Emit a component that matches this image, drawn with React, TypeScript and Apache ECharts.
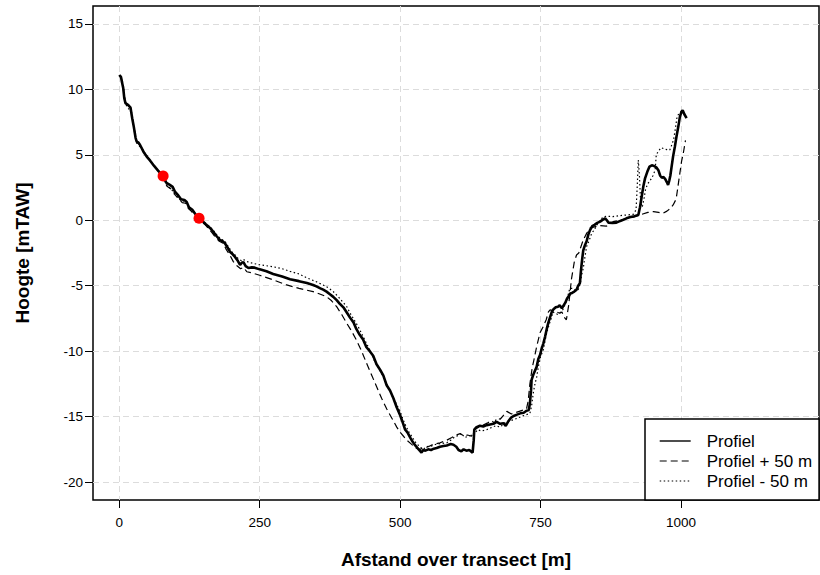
import React, { useEffect, useRef } from "react";
import * as echarts from "echarts";

const xTicks = [0, 250, 500, 750, 1000];
const yTicks = [-20, -15, -10, -5, 0, 5, 10, 15];

const seriesNames = ["Profiel", "Profiel + 50 m", "Profiel - 50 m"];

// Profiel (distance m, height mTAW)
const profiel: [number, number][] = [
  [0, 11.1], [3, 10.95], [5, 10.5], [7, 10.1], [9, 9.3], [11, 8.95], [16, 8.8], [20, 8.6], [23, 7.8], [26, 7.1],
  [29, 6.3], [31, 6.0], [34, 5.95], [37, 5.75], [43, 5.24], [50, 4.8], [55, 4.55], [62, 4.15], [69, 3.8], [78, 3.38],
  [84, 2.85], [90, 2.7], [95, 2.55], [99, 2.2], [105, 1.9], [110, 1.6], [116, 1.55], [120, 1.4], [124, 1.0], [130, 0.8],
  [135, 0.5], [142, 0.15], [148, -0.05], [155, -0.35], [162, -0.6], [167, -0.87], [173, -1.2], [179, -1.5], [184, -1.6],
  [188, -1.76], [193, -2.1], [197, -2.4], [202, -2.6], [206, -2.8], [211, -3.1], [215, -3.4], [218, -3.25], [221, -3.2],
  [225, -3.5], [230, -3.65], [236, -3.6], [241, -3.62], [250, -3.75], [262, -3.9], [274, -4.1], [290, -4.3], [304, -4.5],
  [320, -4.65], [334, -4.8], [345, -4.94], [351, -5.05], [358, -5.2], [363, -5.3], [369, -5.45], [375, -5.65], [381, -5.85],
  [387, -6.1], [393, -6.4], [399, -6.65], [405, -7.05], [411, -7.45], [417, -7.8], [422, -8.3], [428, -8.75], [434, -9.1],
  [440, -9.7], [446, -10.0], [452, -10.35], [458, -11.0], [464, -11.4], [470, -11.85], [476, -12.6], [482, -13.0],
  [488, -13.6], [494, -14.3], [500, -14.9], [505, -15.5], [509, -16.0], [513, -16.2], [518, -16.6], [522, -16.9],
  [527, -17.2], [531, -17.4], [535, -17.6], [538, -17.75], [541, -17.55], [545, -17.6], [550, -17.5], [555, -17.55],
  [560, -17.45], [565, -17.4], [571, -17.3], [577, -17.25], [583, -17.2], [590, -17.1], [595, -17.15], [600, -17.3],
  [604, -17.55], [609, -17.65], [613, -17.5], [618, -17.6], [623, -17.55], [629, -17.75], [631, -16.8], [632, -16.0],
  [636, -15.8], [642, -15.7], [648, -15.75], [654, -15.65], [660, -15.6], [666, -15.55], [672, -15.4], [678, -15.55],
  [684, -15.5], [688, -15.7], [692, -15.4], [697, -15.1], [702, -14.95], [708, -14.85], [714, -14.75], [720, -14.7],
  [725, -14.55], [729, -14.5], [731, -14.0], [733, -13.0], [734, -12.2], [737, -11.8], [740, -11.5], [743, -11.2],
  [746, -10.6], [749, -10.3], [752, -9.8], [755, -9.4], [758, -8.9], [761, -8.3], [764, -7.8], [767, -7.4], [770, -7.0],
  [773, -6.8], [777, -6.65], [781, -6.6], [784, -6.5], [788, -6.72], [791, -6.5], [794, -6.3], [797, -6.0], [800, -5.8],
  [803, -5.6], [806, -5.55], [810, -5.45], [814, -5.3], [817, -5.0], [820, -4.8], [822, -3.8], [824, -3.0], [826, -2.3],
  [829, -1.9], [832, -1.6], [835, -1.1], [838, -0.75], [842, -0.45], [846, -0.35], [851, -0.2], [856, -0.1], [861, 0.05],
  [865, 0.15], [868, 0.0], [871, -0.18], [878, -0.2], [885, -0.18], [892, -0.05], [898, 0.05], [903, 0.15], [910, 0.25],
  [917, 0.3], [924, 0.4], [927, 1.0], [930, 1.8], [933, 2.6], [936, 3.2], [940, 3.7], [944, 4.1], [948, 4.2], [952, 4.15],
  [956, 4.05], [960, 3.8], [963, 3.4], [966, 3.25], [969, 3.3], [972, 3.15], [975, 2.9], [977, 2.7], [979, 3.0],
  [981, 3.4], [983, 4.0], [986, 4.9], [989, 5.6], [992, 6.4], [995, 7.1], [998, 7.9], [1001, 8.3], [1003, 8.4],
  [1006, 8.1], [1010, 7.8],
];

// Profiel + 50 m
const profielPlus: [number, number][] = [
  [1, 11.0], [4, 10.8], [6, 10.3], [8, 9.8], [10, 9.1], [13, 8.9], [17, 8.75], [21, 8.5], [24, 7.6], [27, 6.9],
  [30, 6.2], [33, 5.9], [38, 5.7], [44, 5.2], [52, 4.7], [60, 4.25], [68, 3.85], [75, 3.45], [80, 3.0], [85, 2.6],
  [90, 2.45], [96, 2.3], [100, 1.9], [106, 1.65], [112, 1.35], [118, 1.3], [123, 0.9], [128, 0.7], [134, 0.4],
  [140, 0.05], [146, -0.1], [152, -0.3], [158, -0.6], [165, -0.95], [172, -1.35], [178, -1.6], [185, -1.75], [190, -2.2],
  [196, -2.6], [203, -3.16], [210, -3.5], [216, -3.7], [221, -3.6], [227, -3.93], [235, -4.0], [250, -4.2], [274, -4.55],
  [298, -4.94], [320, -5.2], [345, -5.45], [358, -5.65], [369, -5.84], [378, -6.15], [387, -6.6], [396, -7.2],
  [405, -7.87], [414, -8.5], [422, -9.14], [431, -9.95], [440, -10.9], [449, -11.8], [458, -12.7], [467, -13.6],
  [476, -14.4], [485, -15.1], [494, -15.8], [500, -16.2], [506, -16.5], [512, -16.8], [520, -17.1], [528, -17.4],
  [535, -17.5], [541, -17.4], [550, -17.3], [560, -17.1], [571, -17.0], [583, -16.8], [592, -16.6], [600, -16.4],
  [607, -16.3], [614, -16.5], [620, -16.4], [627, -16.5], [632, -16.0], [636, -15.9], [645, -15.7], [655, -15.5],
  [663, -15.3], [668, -15.5], [672, -15.1], [678, -15.2], [684, -14.9], [690, -14.6], [698, -14.8], [705, -14.7],
  [712, -14.6], [719, -14.5], [725, -14.4], [728, -13.8], [731, -12.5], [735, -11.3], [739, -10.5], [743, -9.66],
  [749, -8.6], [755, -8.1], [760, -7.6], [764, -7.0], [767, -6.85], [772, -6.9], [778, -7.0], [784, -7.1], [788, -7.0],
  [792, -7.4], [796, -7.6], [800, -6.5], [805, -4.5], [810, -3.2], [814, -2.65], [818, -2.5], [822, -2.0], [826, -1.5],
  [832, -1.0], [838, -0.6], [846, -0.5], [855, -0.4], [867, -0.45], [880, -0.1], [891, 0.0], [903, 0.15], [915, 0.28],
  [930, 0.45], [941, 0.6], [951, 0.66], [960, 0.6], [968, 0.53], [975, 0.7], [981, 0.9], [986, 1.17], [990, 1.5],
  [992, 1.8], [995, 2.7], [998, 3.6], [1001, 4.5], [1004, 5.1], [1008, 6.1],
];

// Profiel - 50 m
const profielMinus: [number, number][] = [
  [3, 10.9], [5, 10.7], [7, 10.4], [9, 9.6], [11, 8.9], [15, 8.6], [19, 8.4], [22, 8.2], [25, 7.3], [28, 6.5],
  [31, 5.9], [35, 5.7], [40, 5.5], [46, 5.1], [55, 4.6], [63, 4.1], [70, 3.75], [78, 3.4], [82, 2.9], [86, 2.55],
  [92, 2.45], [98, 2.0], [104, 1.75], [110, 1.5], [118, 1.45], [122, 1.1], [128, 0.85], [134, 0.6], [140, 0.25],
  [146, 0.05], [153, -0.2], [160, -0.45], [168, -0.8], [175, -1.2], [182, -1.45], [188, -1.6], [194, -2.0], [200, -2.4],
  [206, -2.65], [212, -2.95], [218, -3.1], [221, -3.0], [230, -3.2], [239, -3.3], [250, -3.4], [274, -3.55],
  [290, -3.7], [304, -3.9], [320, -4.1], [334, -4.4], [351, -4.7], [363, -4.95], [372, -5.15], [381, -5.45],
  [390, -5.85], [399, -6.3], [405, -6.6], [411, -7.1], [418, -7.6], [425, -8.1], [432, -8.7], [440, -9.4], [447, -10.0],
  [455, -10.8], [462, -11.3], [470, -11.95], [478, -12.7], [486, -13.4], [494, -14.1], [500, -14.6], [505, -15.2],
  [510, -15.7], [516, -16.2], [522, -16.6], [528, -17.0], [535, -17.3], [541, -17.5], [547, -17.3], [555, -17.25],
  [565, -17.1], [575, -17.05], [583, -17.0], [590, -16.8], [597, -16.55], [603, -16.45], [609, -16.27], [615, -16.6],
  [621, -16.5], [627, -16.4], [632, -16.3], [638, -16.0], [645, -16.1], [654, -16.0], [662, -15.85], [670, -15.7],
  [678, -15.8], [686, -15.5], [694, -15.35], [701, -15.25], [710, -15.1], [718, -14.95], [725, -14.85], [731, -14.75],
  [734, -14.2], [737, -13.2], [740, -12.5], [743, -12.0], [746, -11.2], [750, -10.4], [755, -9.9], [758, -9.2],
  [761, -8.6], [765, -8.0], [769, -7.5], [772, -7.0], [776, -7.1], [781, -7.2], [786, -7.0], [790, -6.8], [794, -6.4],
  [798, -5.9], [802, -5.2], [807, -5.2], [812, -5.35], [817, -5.3], [821, -4.8], [823, -4.2], [826, -3.67], [829, -2.8],
  [832, -2.0], [836, -1.6], [841, -1.0], [846, -0.7], [851, -0.3], [856, 0.0], [862, 0.28], [870, 0.3], [879, 0.28],
  [890, 0.35], [903, 0.4], [915, 0.45], [920, 0.8], [922, 2.5], [924, 4.6], [926, 3.4], [928, 1.5], [931, 1.0],
  [934, 1.6], [937, 2.4], [941, 2.8], [946, 3.1], [950, 3.4], [954, 3.84], [956, 5.0], [960, 5.3], [965, 5.55],
  [970, 5.45], [975, 5.4], [980, 5.37], [984, 5.8], [987, 6.2], [990, 7.0], [993, 7.9], [997, 8.2], [1000, 8.3],
];

// Marked points
const markedPoints: [number, number][] = [
  [78, 3.38],
  [142, 0.15],
];

const FONT = "'Liberation Sans', Arial, Helvetica, sans-serif";

export default function App() {
  const ref = useRef<HTMLDivElement>(null);

  useEffect(() => {
    if (!ref.current) return;
    const chart = echarts.init(ref.current, undefined, { renderer: "svg" });
    const axisCommon = {
      axisLine: { show: false, onZero: false },
      axisTick: { show: true, inside: false, length: 8, lineStyle: { color: "#000", width: 1 } },
      splitLine: { show: true, lineStyle: { color: "#dcdcdc", width: 1, type: [6, 4] } },
    };
    chart.setOption({
      animation: false,
      backgroundColor: "#fff",
      grid: {
        left: 93,
        top: 6,
        right: 1,
        bottom: 75,
        show: true,
        borderColor: "#000",
        borderWidth: 1.5,
        backgroundColor: "transparent",
      },
      xAxis: {
        type: "value",
        min: -46.8,
        max: 1245.7,
        ...axisCommon,
        axisTick: { ...axisCommon.axisTick, customValues: xTicks },
        axisLabel: {
          customValues: xTicks,
          formatter: (v: number) => String(v),
          color: "#000",
          fontSize: 13.5,
          fontFamily: FONT,
          margin: 15,
        },
        name: "Afstand over transect [m]",
        nameLocation: "middle",
        nameGap: 50,
        nameTextStyle: { color: "#000", fontSize: 19, fontWeight: "bold", fontFamily: FONT },
      },
      yAxis: {
        type: "value",
        min: -21.37,
        max: 16.37,
        ...axisCommon,
        axisTick: { ...axisCommon.axisTick, customValues: yTicks },
        axisLabel: {
          customValues: yTicks,
          formatter: (v: number) => String(v),
          color: "#000",
          fontSize: 13.5,
          fontFamily: FONT,
          margin: 10,
        },
        name: "Hoogte [mTAW]",
        nameLocation: "middle",
        nameGap: 61,
        nameTextStyle: { color: "#000", fontSize: 19, fontWeight: "bold", fontFamily: FONT },
      },
      legend: {
        orient: "vertical",
        left: 645,
        top: 419,
        itemWidth: 31,
        itemHeight: 14,
        itemGap: 3,
        padding: [13.5, 7, 10.5, 14],
        backgroundColor: "#fff",
        borderColor: "#000",
        borderWidth: 1.5,
        borderRadius: 0,
        selectedMode: false,
        itemStyle: { opacity: 0 },
        textStyle: { color: "#000", fontSize: 17, fontFamily: FONT, padding: [0, 0, 0, 11] },
        data: [
          { name: seriesNames[0], lineStyle: { width: 1.4 } },
          { name: seriesNames[1], lineStyle: { width: 1.2 } },
          { name: seriesNames[2], lineStyle: { width: 1.2 } },
        ],
      },
      series: [
        {
          name: seriesNames[1],
          type: "line",
          data: profielPlus,
          symbol: "none",
          itemStyle: { opacity: 0 },
          lineStyle: { color: "#000", width: 1.2, type: [7, 4] },
          z: 2,
        },
        {
          name: seriesNames[2],
          type: "line",
          data: profielMinus,
          symbol: "none",
          itemStyle: { opacity: 0 },
          lineStyle: { color: "#000", width: 1.2, type: [1.5, 2.5] },
          z: 2,
        },
        {
          name: seriesNames[0],
          type: "line",
          data: profiel,
          symbol: "none",
          itemStyle: { opacity: 0 },
          lineStyle: { color: "#000", width: 2.6, type: "solid" },
          z: 3,
        },
        {
          name: "Punten",
          type: "scatter",
          data: markedPoints,
          symbol: "circle",
          symbolSize: 11,
          itemStyle: { color: "#ff0000", opacity: 1 },
          z: 5,
        },
      ],
    });
    return () => chart.dispose();
  }, []);

  return (
    <div
      ref={ref}
      style={{ position: "fixed", left: 0, top: 0, width: 820, height: 575, background: "#fff" }}
    />
  );
}
